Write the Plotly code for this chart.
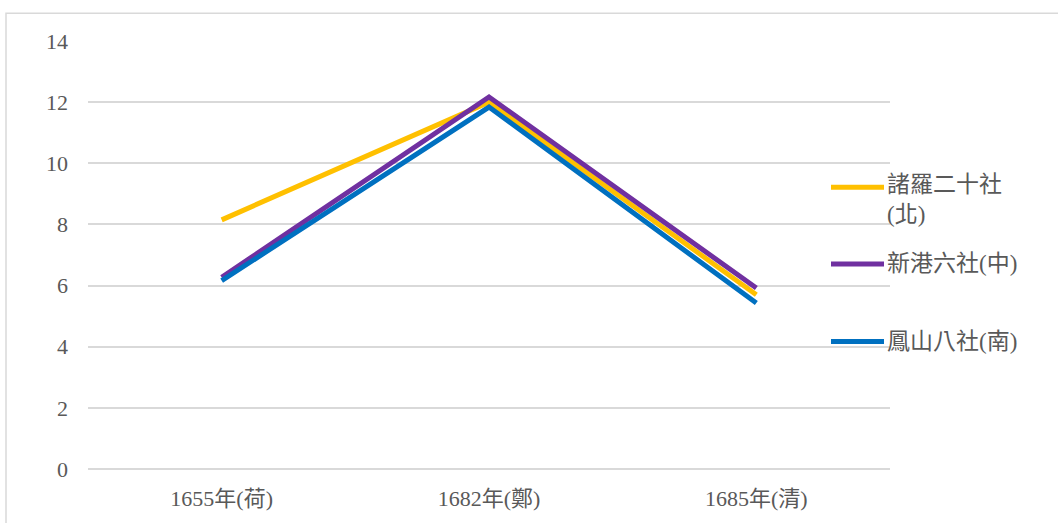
import plotly.graph_objects as go

# Categories (period) and values for the three groups of villages
periods = ["1655年(荷)", "1682年(鄭)", "1685年(清)"]
series_names = ["諸羅二十社<br>(北)", "新港六社(中)", "鳳山八社(南)"]
zhuluo = [8.15, 12.0, 5.7]
xingang = [6.27, 12.17, 5.92]
fengshan = [6.16, 11.84, 5.43]
y_ticks = [0, 2, 4, 6, 8, 10, 12, 14]

colors = ["#FFC000", "#7030A0", "#0070C0"]
values = [zhuluo, xingang, fengshan]

FONT = "Liberation Serif, 'Noto Sans CJK TC', serif"
TEXT = "#595959"
GRID = "#d9d9d9"

fig = go.Figure()
for name, vals, col in zip(series_names, values, colors):
    fig.add_trace(go.Scatter(
        x=periods, y=vals, mode="lines", name=name,
        line=dict(color=col, width=5), showlegend=False,
        hoverinfo="x+y",
    ))

W, H = 1058, 523
L, R, T, B = 88, 168, 41, 52
pw, ph = W - L - R, H - T - B

def px_x(x):
    return (x - L) / pw

def px_y(y):
    return (H - B - y) / ph

shapes = [
    # chart frame
    dict(type="rect", xref="paper", yref="paper",
         x0=px_x(6), x1=px_x(1070), y0=px_y(13), y1=px_y(540),
         line=dict(color=GRID, width=1.5), layer="below"),
]

# legend: sample lines and labels
legend_y = [188, 265, 343]
annotations = []
for name, col, ly in zip(series_names, colors, legend_y):
    shapes.append(dict(type="line", xref="paper", yref="paper",
                       x0=px_x(831), x1=px_x(884), y0=px_y(ly), y1=px_y(ly),
                       line=dict(color=col, width=5)))
    multi = "<br>" in name
    annotations.append(dict(
        text=name, xref="paper", yref="paper", showarrow=False,
        x=px_x(885), xanchor="left", align="left",
        y=px_y(ly - 17) if multi else px_y(ly),
        yanchor="top" if multi else "middle",
        font=dict(family=FONT, size=23, color=TEXT),
    ))

fig.update_layout(
    width=W, height=H,
    margin=dict(l=L, r=R, t=T, b=B),
    paper_bgcolor="white", plot_bgcolor="white",
    font=dict(family=FONT, color=TEXT, size=22),
    shapes=shapes, annotations=annotations,
    xaxis=dict(
        type="category", showgrid=False, showline=False, zeroline=False,
        ticks="", tickfont=dict(size=22, color=TEXT, family=FONT),
        ticklabelstandoff=14, range=[-0.5, 2.5],
    ),
    yaxis=dict(
        range=[0, 14], tickvals=y_ticks, showgrid=True, gridcolor=GRID,
        gridwidth=1.5, zeroline=True, zerolinecolor=GRID, zerolinewidth=1.5,
        showline=False, ticks="", tickfont=dict(size=22, color=TEXT, family=FONT),
        ticklabelstandoff=19,
    ),
)

fig.write_html("out.html")
